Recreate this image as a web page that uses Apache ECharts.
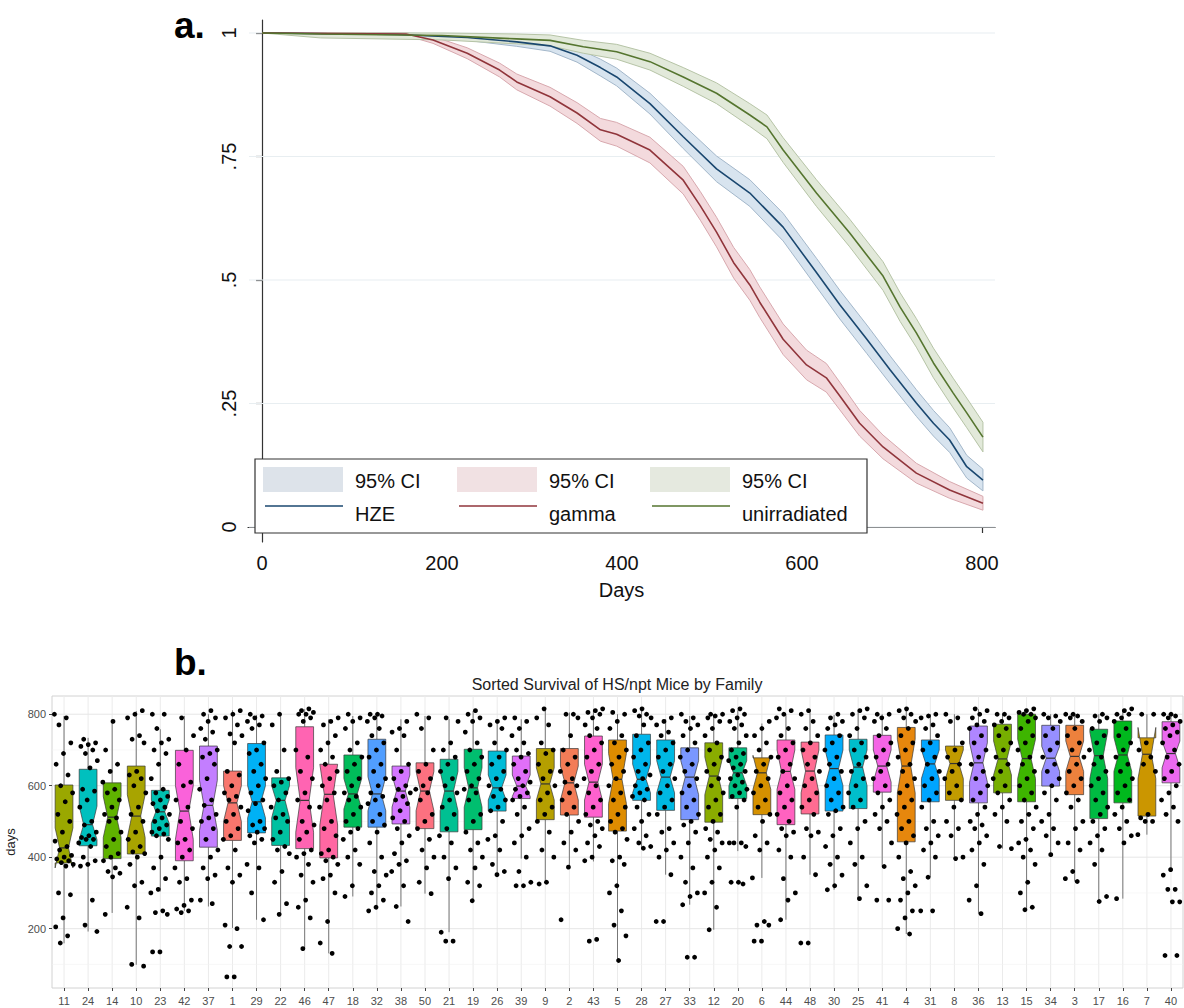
<!DOCTYPE html>
<html><head><meta charset="utf-8">
<script src="https://cdn.jsdelivr.net/npm/echarts@6/dist/echarts.min.js"></script>
<style>html,body{margin:0;padding:0;background:#fff}#c{width:1184px;height:1008px}</style>
</head><body><div id="c"></div>
<script>
// ---------- Panel a: Kaplan-Meier survival ----------
const survTicks = [0, 0.25, 0.5, 0.75, 1];
const survTickLabels = ['0', '.25', '.5', '.75', '1'];
const dayTicksA = [0, 200, 400, 600, 800];
const groupNames = ['HZE', 'gamma', 'unirradiated'];
const ciLabel = '95% CI';

const hzeDays = [0,150,228,283,320,350,376,394,431,468,505,542,579,616,642,672,698,727,746,764,783,801];
const hzeSurv = [1,0.997,0.991,0.982,0.974,0.955,0.93,0.911,0.857,0.79,0.725,0.676,0.607,0.515,0.45,0.38,0.318,0.251,0.21,0.176,0.122,0.095];
const hzeHi   = [1,1,0.997,0.991,0.985,0.969,0.947,0.929,0.878,0.814,0.751,0.703,0.635,0.544,0.479,0.409,0.346,0.278,0.236,0.201,0.145,0.117];
const hzeLo   = [1,0.994,0.985,0.973,0.963,0.941,0.913,0.893,0.836,0.766,0.699,0.649,0.579,0.486,0.421,0.351,0.290,0.224,0.184,0.151,0.099,0.073];

const gammaDays = [0,160,190,228,264,283,320,350,376,394,431,468,487,505,524,542,553,579,605,627,642,664,690,727,764,801];
const gammaSurv = [1,0.998,0.986,0.959,0.925,0.901,0.871,0.838,0.804,0.795,0.763,0.702,0.65,0.597,0.535,0.49,0.455,0.38,0.328,0.302,0.265,0.21,0.162,0.109,0.075,0.048];
const gammaHi   = [1,1,0.993,0.970,0.939,0.917,0.890,0.859,0.827,0.819,0.789,0.730,0.679,0.627,0.566,0.521,0.486,0.411,0.358,0.331,0.293,0.236,0.186,0.129,0.092,0.062];
const gammaLo   = [1,0.995,0.979,0.948,0.911,0.885,0.852,0.817,0.781,0.771,0.737,0.674,0.621,0.567,0.504,0.459,0.424,0.349,0.298,0.273,0.237,0.184,0.138,0.089,0.058,0.034];

const unirrDays = [0,65,200,283,320,357,394,431,468,505,542,561,579,616,653,690,709,727,746,768,783,801];
const unirrSurv = [1,0.998,0.995,0.988,0.985,0.972,0.962,0.942,0.911,0.878,0.834,0.81,0.763,0.676,0.595,0.508,0.445,0.393,0.332,0.271,0.231,0.182];
const unirrHi   = [1,1,1,0.998,0.996,0.985,0.977,0.959,0.930,0.899,0.857,0.834,0.788,0.703,0.623,0.537,0.474,0.422,0.362,0.301,0.261,0.212];
const unirrLo   = [1,0.990,0.986,0.978,0.974,0.959,0.947,0.925,0.892,0.857,0.811,0.786,0.738,0.649,0.567,0.479,0.416,0.364,0.302,0.241,0.201,0.152];

// ---------- Panel b: survival by family ----------
const families = ['11','24','14','10','23','42','37','1','29','22','46','47','18','32','38','50','21','19','26','39','9','2','43','5','28','27','33','12','20','6','44','48','30','25','41','4','31','8','36','13','15','34','3','17','16','7','40'];
const whiskerLow  = [159,192,244,99,304,250,262,202,225,239,144,131,290,253,262,298,190,278,351,396,328,372,388,111,424,351,267,197,417,342,225,351,309,284,374,185,344,396,242,424,253,407,332,276,284,463,365];
const quart1      = [384,432,396,409,459,390,428,447,468,433,424,398,484,484,493,480,471,477,529,564,505,518,512,473,559,531,505,498,564,519,491,521,529,536,582,443,555,559,552,580,555,599,575,508,552,515,608];
const medianDays  = [426,491,512,515,527,529,545,552,555,559,559,576,577,577,585,585,585,594,594,599,605,608,610,618,618,624,624,627,636,636,640,641,648,652,655,655,661,662,664,675,676,677,682,684,686,688,690];
const quart3      = [602,646,608,655,587,699,711,641,718,622,765,660,686,730,655,664,674,702,697,683,704,704,739,728,744,728,706,720,706,678,728,722,742,730,741,763,728,711,767,772,800,769,769,758,781,734,779];
const whiskerHigh = [795,734,777,809,758,795,800,811,798,800,814,786,795,800,786,795,786,809,780,786,814,805,809,800,811,786,795,800,811,774,800,805,798,811,800,814,800,800,814,800,811,800,800,800,811,800,800];
const notchLow    = [370,449,455,455,495,450,475,500,510,510,470,490,535,530,540,530,530,540,560,570,560,560,560,550,580,580,575,575,600,590,590,580,600,600,610,580,620,620,610,630,620,640,640,620,640,620,650];
const notchHigh   = [482,543,570,575,560,600,615,600,600,600,650,660,620,625,630,640,640,650,630,630,650,655,660,690,660,670,670,680,670,685,700,700,700,700,700,730,700,700,720,725,730,710,725,750,735,763,725];
const dayTicksB = [200, 400, 600, 800];
const dayMinorB = [100, 300, 500, 700];

// individual mice (days survived), one list per family in the order above
const mouseDays = [
 [800,790,770,720,690,660,630,600,580,555,520,500,470,445,430,420,405,400,395,390,385,380,375,300,295,230,205,180,160],
 [730,720,715,710,700,690,670,650,590,585,560,540,500,490,470,460,455,450,450,440,430,400,390,380,375,280,210,192],
 [780,700,660,640,610,590,580,560,540,520,510,500,470,450,430,410,400,390,370,360,355,345,240],
 [810,800,790,740,730,720,640,630,620,600,580,540,520,500,470,450,430,415,410,400,380,330,320,260,230,100,95],
 [800,800,760,730,720,700,690,660,620,590,580,570,560,550,540,530,520,510,500,490,480,470,465,460,450,400,370,340,310,300,250,245,240,135,135],
 [790,740,700,660,610,600,560,540,500,480,450,440,420,400,370,340,330,280,265,255,250,245],
 [810,800,790,780,760,750,730,700,690,680,660,620,590,560,545,520,510,500,480,450,420,400,370,350,340,280,270],
 [810,800,790,770,745,740,720,640,630,600,580,570,560,540,520,500,480,460,450,420,370,350,330,210,200,150,150,65,65],
 [800,795,790,780,770,760,720,700,690,660,640,620,600,580,560,550,530,500,490,480,470,460,450,440,380,370,300,225],
 [800,770,700,640,620,610,600,580,560,540,520,510,500,470,450,430,420,410,360,330,270,240],
 [815,810,805,800,800,790,780,700,680,640,620,580,560,540,500,490,470,450,420,410,400,380,350,330,280,260,230,144],
 [790,780,770,740,720,700,680,660,640,620,600,580,560,540,500,480,460,420,410,400,390,380,350,340,300,220,160,131],
 [800,790,780,760,720,700,680,660,640,620,600,580,570,560,540,520,500,480,470,450,420,400,380,320,290],
 [800,800,795,790,780,760,740,720,700,680,660,640,620,600,580,570,560,550,520,500,490,470,440,400,360,350,320,300,280,260,250],
 [780,760,750,740,700,660,640,620,600,590,580,570,560,550,530,510,500,480,460,440,410,390,380,360,320,262,220],
 [800,790,760,700,660,640,620,600,590,580,560,520,500,480,450,420,400,370,330,298],
 [790,780,720,700,680,660,640,620,600,580,560,540,520,480,460,440,400,370,340,190,165,165],
 [810,800,790,780,750,720,700,680,660,640,620,600,590,580,560,520,500,470,440,420,400,370,330,320,278],
 [790,780,770,760,720,700,680,660,640,620,600,590,570,560,540,530,500,460,450,420,380,360,351],
 [790,780,760,740,720,700,690,680,660,640,620,610,600,590,580,570,560,540,520,480,460,440,400,360,330,320,320],
 [815,790,770,720,700,690,660,640,620,600,580,560,540,520,500,470,420,400,330,325],
 [800,800,790,740,700,680,660,640,620,610,600,580,560,540,520,500,470,440,420,372,225],
 [815,810,805,800,790,770,760,740,720,700,680,660,640,620,600,580,560,540,520,500,490,480,460,440,430,400,390,170,165],
 [805,800,780,760,740,720,700,680,660,640,620,600,580,560,540,520,500,480,470,450,400,390,380,320,300,250,210,180,111],
 [815,810,800,795,790,770,740,720,700,680,660,640,630,620,600,590,580,570,560,540,520,500,480,460,440,430,425],
 [790,780,770,750,740,720,700,680,660,640,620,600,580,560,540,520,480,470,440,420,400,351,220,220],
 [800,790,780,770,760,740,720,700,680,660,640,620,600,580,560,540,520,500,490,470,440,400,370,330,300,290,267,120,120],
 [800,800,795,790,780,760,740,720,700,680,660,640,620,600,580,560,540,520,500,480,470,450,440,420,400,370,330,300,260,197],
 [815,810,800,790,780,770,760,740,720,700,690,680,670,660,650,640,630,620,610,600,590,580,570,560,540,440,440,440,430,330,330,325],
 [780,760,740,720,700,680,660,640,620,600,580,560,540,520,500,460,440,420,342,220,210,210,165,165],
 [815,810,800,790,760,740,720,700,680,660,640,620,600,580,560,540,520,500,480,470,460,420,400,340,300,280,225],
 [810,800,780,760,740,720,700,680,660,640,620,600,580,560,540,520,480,470,460,400,351,160,160],
 [800,790,780,770,760,740,720,700,680,660,640,620,600,580,560,540,530,520,480,460,430,400,380,350,320,309],
 [815,810,800,790,760,740,720,700,680,660,640,620,600,580,560,540,500,480,440,400,380,320,284],
 [800,800,790,780,760,740,720,700,680,660,640,620,600,580,560,540,520,500,480,440,374,280,280],
 [815,810,800,790,780,760,740,720,700,680,660,640,620,600,580,560,540,520,500,480,460,440,400,360,340,320,300,280,250,230,200,185],
 [800,795,790,770,760,740,720,700,680,660,640,620,600,580,560,540,500,480,460,440,420,400,344,250,250],
 [800,790,780,720,700,680,660,640,620,600,580,560,540,500,480,460,400,396],
 [815,810,800,790,780,770,760,740,720,700,680,660,640,620,600,580,560,540,520,500,490,480,460,440,420,380,320,280,242],
 [800,800,790,780,770,760,740,720,700,680,660,640,620,600,580,560,540,520,500,430,424],
 [815,810,805,800,800,790,780,760,740,720,700,680,660,640,620,600,580,560,540,520,500,480,450,440,420,400,380,330,300,260,253],
 [800,795,790,780,760,740,720,700,680,660,640,620,600,580,560,520,500,480,460,440,407],
 [800,800,795,790,780,760,740,720,700,680,660,640,620,600,580,560,540,500,480,440,420,360,340,332],
 [800,795,790,780,760,740,720,700,680,660,640,620,600,580,560,540,520,500,480,460,440,420,380,290,276],
 [815,810,800,800,790,780,760,740,720,700,680,660,640,620,600,580,560,540,520,500,480,460,440,284],
 [800,800,720,700,680,660,640,520,510,500,500,463],
 [800,800,795,790,780,770,760,750,740,720,700,680,660,640,620,600,580,560,540,520,500,365,350,310,310,275,275,125,125]
];

// ---------- styles ----------
const FONT = '"Liberation Sans", Arial, Helvetica, sans-serif';
const lineColors = ['#1a476f', '#90353b', '#55752f'];
const bandFills  = ['#d8e4ef', '#f3dadd', '#e2e9da'];
const bandStrokes = ['#a3b7ca', '#d8a8ae', '#b6c4a6'];
const swatchFills = ['#dde3ea', '#f1e1e3', '#e5e9df'];

function hclHex(h, c, l) {
  const hr = h * Math.PI / 180;
  const U = c * Math.cos(hr), V = c * Math.sin(hr);
  const Xn = 95.047, Yn = 100, Zn = 108.883;
  const den = Xn + 15 * Yn + 3 * Zn;
  const un = 4 * Xn / den, vn = 9 * Yn / den;
  const Y = l > 8 ? Yn * Math.pow((l + 16) / 116, 3) : Yn * l / 903.3;
  const u = U / (13 * l) + un, v = V / (13 * l) + vn;
  const X = 9 * Y * u / (4 * v);
  const Z = -X / 3 - 5 * Y + 3 * Y / v;
  const lin = [3.240479 * X - 1.537150 * Y - 0.498535 * Z,
               -0.969256 * X + 1.875992 * Y + 0.041556 * Z,
               0.055648 * X - 0.204043 * Y + 1.057311 * Z].map(t => t / 100);
  const g = t => { t = t <= 0.0031308 ? 12.92 * t : 1.055 * Math.pow(t, 1 / 2.4) - 0.055; return Math.round(Math.max(0, Math.min(1, t)) * 255); };
  return '#' + lin.map(g).map(n => n.toString(16).padStart(2, '0')).join('');
}
// ggplot default hue palette over the family factor levels (numeric order)
const levels = families.slice().sort((a, b) => (+a) - (+b));
const famColor = f => hclHex(15 + 360 * levels.indexOf(f) / levels.length, 100, 65);

function bandSeries(days, lo, hi, k) {
  return {
    type: 'custom', xAxisIndex: 0, yAxisIndex: 0, z: 2, silent: true,
    data: [[days[0], lo[0]]],
    renderItem: (params, api) => {
      const pts = [];
      for (let i = 0; i < days.length; i++) pts.push(api.coord([days[i], hi[i]]));
      for (let i = days.length - 1; i >= 0; i--) pts.push(api.coord([days[i], lo[i]]));
      return { type: 'polygon', shape: { points: pts }, style: { fill: bandFills[k], stroke: bandStrokes[k], lineWidth: 1 } };
    }
  };
}
function lineSeries(name, days, surv, k) {
  return {
    type: 'line', name, xAxisIndex: 0, yAxisIndex: 0, z: 3, silent: true,
    data: days.map((d, i) => [d, surv[i]]), showSymbol: false, symbol: 'none',
    lineStyle: { color: lineColors[k], width: 1.6 }
  };
}

const boxData = families.map((f, i) => [i, whiskerLow[i], quart1[i], medianDays[i], quart3[i], whiskerHigh[i], notchLow[i], notchHigh[i]]);
const pointData = [];
mouseDays.forEach((arr, i) => arr.forEach((d, k) => pointData.push([i, d, k])));

// legend (graphic)
const legendEls = [{ type: 'rect', shape: { x: 255, y: 459, width: 612, height: 74 }, style: { fill: '#fff', stroke: '#333', lineWidth: 1.2 }, z: 10 }];
const colX = [263, 457, 650];
groupNames.forEach((g, k) => {
  const x = colX[k];
  legendEls.push({ type: 'rect', shape: { x: x, y: 467, width: 80, height: 25 }, style: { fill: swatchFills[k] }, z: 11 });
  legendEls.push({ type: 'line', shape: { x1: x + 2, y1: 506, x2: x + 80, y2: 506 }, style: { stroke: lineColors[k], lineWidth: 1.6 }, z: 11 });
  legendEls.push({ type: 'text', x: x + 92, y: 481, style: { text: ciLabel, font: '20px ' + FONT, fill: '#111', verticalAlign: 'middle' }, z: 11 });
  legendEls.push({ type: 'text', x: x + 92, y: 514, style: { text: g, font: '20px ' + FONT, fill: '#111', verticalAlign: 'middle' }, z: 11 });
});

const chart = echarts.init(document.getElementById('c'), null, { renderer: 'svg' });
chart.setOption({
  animation: false,
  backgroundColor: '#fff',
  textStyle: { fontFamily: FONT },
  graphic: [
    { type: 'text', x: 174, y: 44, style: { text: 'a.', font: 'bold 37px ' + FONT, fill: '#000', verticalAlign: 'bottom' } },
    { type: 'text', x: 174, y: 681, style: { text: 'b.', font: 'bold 37px ' + FONT, fill: '#000', verticalAlign: 'bottom' } },
    { type: 'text', x: 617, y: 684, style: { text: 'Sorted Survival of HS/npt Mice by Family', font: '16px ' + FONT, fill: '#222', align: 'center', verticalAlign: 'middle' } }
  ].concat(legendEls),
  grid: [
    { left: 248, top: 20, width: 747, height: 522, containLabel: false, outerBoundsMode: 'none' },
    { left: 52, top: 696, width: 1131, height: 292, containLabel: false, outerBoundsMode: 'none', show: true, borderColor: '#d2d2d2', borderWidth: 1, backgroundColor: '#fff' }
  ],
  xAxis: [
    { type: 'value', gridIndex: 0, min: -15.6, max: 814.4,
      axisLine: { show: true, lineStyle: { color: '#333', width: 1.2 } },
      axisTick: { show: true, length: 6, customValues: dayTicksA, lineStyle: { color: '#333', width: 1.2 } },
      axisLabel: { customValues: dayTicksA, fontSize: 20, color: '#111', margin: 11, fontFamily: FONT },
      splitLine: { show: false },
      name: 'Days', nameLocation: 'middle', nameGap: 38, nameTextStyle: { fontSize: 20, color: '#111', fontFamily: FONT } },
    { type: 'category', gridIndex: 1, data: families, boundaryGap: true,
      axisLine: { show: false },
      axisTick: { show: true, alignWithLabel: true, interval: 0, length: 3, lineStyle: { color: '#444' } },
      axisLabel: { interval: 0, fontSize: 11, color: '#4d4d4d', margin: 7, fontFamily: FONT },
      splitLine: { show: false } }
  ],
  yAxis: [
    { type: 'value', gridIndex: 0, min: -0.0304, max: 1.0263,
      axisLine: { show: true, lineStyle: { color: '#333', width: 1.2 } },
      axisTick: { show: true, length: 6, customValues: survTicks, lineStyle: { color: '#333', width: 1.2 } },
      axisLabel: { customValues: survTicks, rotate: 90, fontSize: 20, color: '#111', margin: 9, fontFamily: FONT,
        formatter: v => survTickLabels[survTicks.findIndex(t => Math.abs(t - v) < 1e-6)] },
      splitLine: { show: false } },
    { type: 'value', gridIndex: 1, min: 34, max: 851,
      axisLine: { show: false },
      axisTick: { show: true, length: 3, customValues: dayTicksB, lineStyle: { color: '#444' } },
      axisLabel: { customValues: dayTicksB, fontSize: 11, color: '#4d4d4d', margin: 6, fontFamily: FONT },
      splitLine: { show: false },
      name: 'days', nameLocation: 'middle', nameRotate: 90, nameGap: 30, nameTextStyle: { fontSize: 13, color: '#222', fontFamily: FONT } }
  ],
  series: [
    { type: 'custom', xAxisIndex: 0, yAxisIndex: 0, z: 1, silent: true,
      data: survTicks.map(v => [0, v]),
      renderItem: (p, api) => {
        const cs = p.coordSys; const y = api.coord([0, api.value(1)])[1];
        return { type: 'line', shape: { x1: cs.x + 1, y1: y, x2: cs.x + cs.width, y2: y }, style: { stroke: '#e8eef1', lineWidth: 1.2 } };
      } },
    bandSeries(hzeDays, hzeLo, hzeHi, 0),
    bandSeries(gammaDays, gammaLo, gammaHi, 1),
    bandSeries(unirrDays, unirrLo, unirrHi, 2),
    lineSeries('HZE', hzeDays, hzeSurv, 0),
    lineSeries('gamma', gammaDays, gammaSurv, 1),
    lineSeries('unirradiated', unirrDays, unirrSurv, 2),
    { type: 'custom', xAxisIndex: 1, yAxisIndex: 1, z: 1, silent: true,
      data: families.map((f, i) => [i, 400]),
      renderItem: (p, api) => {
        const cs = p.coordSys; const x = api.coord([api.value(0), 400])[0];
        return { type: 'line', shape: { x1: x, y1: cs.y, x2: x, y2: cs.y + cs.height }, style: { stroke: '#ebebeb', lineWidth: 1 } };
      } },
    { type: 'custom', xAxisIndex: 1, yAxisIndex: 1, z: 1, silent: true,
      data: dayTicksB.map(v => [0, v, 1]).concat(dayMinorB.map(v => [0, v, 0])),
      renderItem: (p, api) => {
        const cs = p.coordSys; const y = api.coord([0, api.value(1)])[1]; const major = api.value(2) === 1;
        return { type: 'line', shape: { x1: cs.x, y1: y, x2: cs.x + cs.width, y2: y }, style: { stroke: major ? '#e6e6e6' : '#f3f3f3', lineWidth: major ? 1 : 0.6 } };
      } },
    { type: 'custom', xAxisIndex: 1, yAxisIndex: 1, z: 2, silent: true,
      data: boxData, encode: { x: 0, y: [1, 2, 3, 4, 5, 6, 7] },
      renderItem: (p, api) => {
        const i = api.value(0);
        const x = api.coord([i, 400])[0];
        const half = api.size([1, 0])[0] * 0.74 / 2;
        const Y = v => api.coord([i, v])[1];
        const wlo = Y(api.value(1)), q1 = Y(api.value(2)), med = Y(api.value(3)), q3 = Y(api.value(4)), whi = Y(api.value(5)), nlo = Y(api.value(6)), nhi = Y(api.value(7));
        const ins = half / 2;
        const fill = famColor(families[i]);
        return { type: 'group', children: [
          { type: 'line', shape: { x1: x, y1: q3, x2: x, y2: whi }, style: { stroke: '#777', lineWidth: 1 } },
          { type: 'line', shape: { x1: x, y1: q1, x2: x, y2: wlo }, style: { stroke: '#777', lineWidth: 1 } },
          { type: 'polygon', shape: { points: [[x - half, q3], [x - half, nhi], [x - half + ins, med], [x - half, nlo], [x - half, q1], [x + half, q1], [x + half, nlo], [x + half - ins, med], [x + half, nhi], [x + half, q3]] },
            style: { fill: fill, stroke: '#3a3a3a', lineWidth: 0.7 } },
          { type: 'line', shape: { x1: x - half + ins, y1: med, x2: x + half - ins, y2: med }, style: { stroke: '#333', lineWidth: 1.2 } }
        ] };
      } },
    { type: 'custom', xAxisIndex: 1, yAxisIndex: 1, z: 3, silent: true,
      data: pointData,
      renderItem: (p, api) => {
        const i = api.value(0), k = api.value(2);
        const c = api.coord([i, api.value(1)]);
        const bw = api.size([1, 0])[0];
        const frac = (k * 0.6180339887 + i * 0.2718281828) % 1;
        return { type: 'circle', shape: { cx: c[0] + (frac - 0.5) * 0.8 * bw, cy: c[1], r: 2.4 }, style: { fill: '#000' } };
      } }
  ]
});
</script></body></html>
